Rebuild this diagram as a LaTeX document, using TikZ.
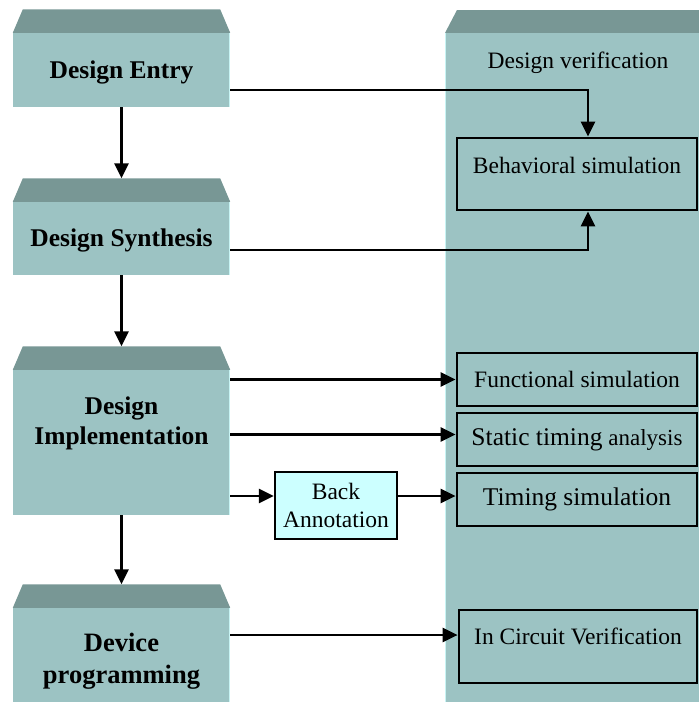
\documentclass[tikz,border=0pt]{standalone}
\usepackage{fontspec}
\setmainfont{Liberation Serif}
\usetikzlibrary{arrows.meta}
\definecolor{facecol}{HTML}{9CC3C3}
\definecolor{bevelcol}{HTML}{789795}
\definecolor{edgecol}{HTML}{C8F4F4}
\definecolor{backcol}{HTML}{CCFFFF}
\begin{document}
\begin{tikzpicture}[x=1pt,y=-1pt,
  stage/.style={fill=facecol,draw=none,inner sep=0,minimum width=217pt},
  stagetext/.style={font=\bfseries\fontsize{25.5}{30}\selectfont,align=center,inner sep=0},
  simbox/.style={draw=black,line width=2.7pt,inner sep=0,minimum width=240pt},
  simtext/.style={font=\fontsize{23.5}{28}\selectfont,inner sep=0,align=center},
  conn/.style={line width=2.7pt,-{Triangle[length=15pt,width=14pt]}},
  bevel/.style={fill=bevelcol}]
\useasboundingbox (0,0) rectangle (699,702);

% verification column
\fill[bevelcol] (457,10) -- (699,10) -- (699,33) -- (445,33) -- cycle;
\fill[facecol] (445,33) rectangle (699,702);
\draw[edgecol,line width=1.2pt] (445.6,33) -- (445.6,702);
\node[simtext] (vtitle) at (578,63) {Design verification};

% flow stages
\node[stage,minimum height=74pt] (entry) at (121.5,70) {};
\node[stage,minimum height=73pt] (synth) at (121.5,238.5) {};
\node[stage,minimum height=145pt] (impl) at (121.5,442.5) {};
\node[stage,minimum height=94pt] (device) at (121.5,655) {};
\foreach \s in {entry,synth,impl,device}{
  \fill[bevelcol] ([xshift=10pt,yshift=23.5pt]\s.north west) -- ([xshift=-10pt,yshift=23.5pt]\s.north east)
     -- (\s.north east) -- (\s.north west) -- cycle;
  \draw[edgecol,line width=1.2pt] ([xshift=-0.6pt]\s.north east) -- ([xshift=-0.6pt]\s.south east);
  \coordinate (\s top) at ([yshift=23.5pt]\s.north);
}
\node[stagetext] (entrylbl) at (121.5,72) {Design Entry};
\node[stagetext] (synthlbl) at (121.5,240) {Design Synthesis};
\node[stagetext] (impllbl) at (121.5,423) {Design\\Implementation};
\node[stagetext,font=\bfseries\fontsize{26.5}{32}\selectfont] (devicelbl) at (121.5,661) {Device\\programming};

% verification steps
\node[simbox,minimum height=72pt] (beh) at (577,174) {};
\node[simtext] (behlbl) at (577,165) {Behavioral simulation};
\node[simbox,minimum height=53pt] (func) at (577,379.5) {};
\node[simtext] (funclbl) at (577,379) {Functional\ simulation};
\node[simbox,minimum height=53pt] (sta) at (577,439.5) {};
\node[simtext] (stalbl) at (577,440) {{\fontsize{25.5}{30}\selectfont Static timing} {\fontsize{23}{28}\selectfont analysis}};
\node[simbox,minimum height=53pt] (tim) at (577,499.5) {};
\node[simtext,font=\fontsize{25.5}{30}\selectfont] (timlbl) at (577,499) {Timing simulation};
\node[simbox,minimum height=73pt,minimum width=238pt] (icv) at (578,646.5) {};
\node[simtext] (icvlbl) at (578,636) {In Circuit Verification};

\node[draw=black,fill=backcol,line width=2.5pt,minimum width=122pt,minimum height=67pt,inner sep=0,
      font=\fontsize{23.5}{28}\selectfont,align=center] (back) at (336,505.5) {Back\\Annotation};

% connectors
\draw[conn] (entry) -- (synthtop);
\draw[conn] (synth) -- (impltop);
\draw[conn] (impl) -- (devicetop);
\draw[conn] ([yshift=-20pt]entry.east) -| ([xshift=11pt]beh.north);
\draw[conn] ([yshift=-11.5pt]synth.east) -| ([xshift=11pt]beh.south);
\draw[conn] (impl.east |- func.west) -- (func.west);
\draw[conn] ([yshift=5pt]impl.east |- sta.west) -- ([yshift=5pt]sta.west);
\draw[conn] ([yshift=3.5pt]impl.east |- tim.west) -- ([yshift=3.5pt]back.west |- tim.west);
\draw[conn] ([yshift=3.5pt]back.east |- tim.west) -- ([yshift=3.5pt]tim.west);
\draw[conn] ([yshift=11.5pt]device.east |- icv.west) -- ([yshift=11.5pt]icv.west);
\end{tikzpicture}
\end{document}
